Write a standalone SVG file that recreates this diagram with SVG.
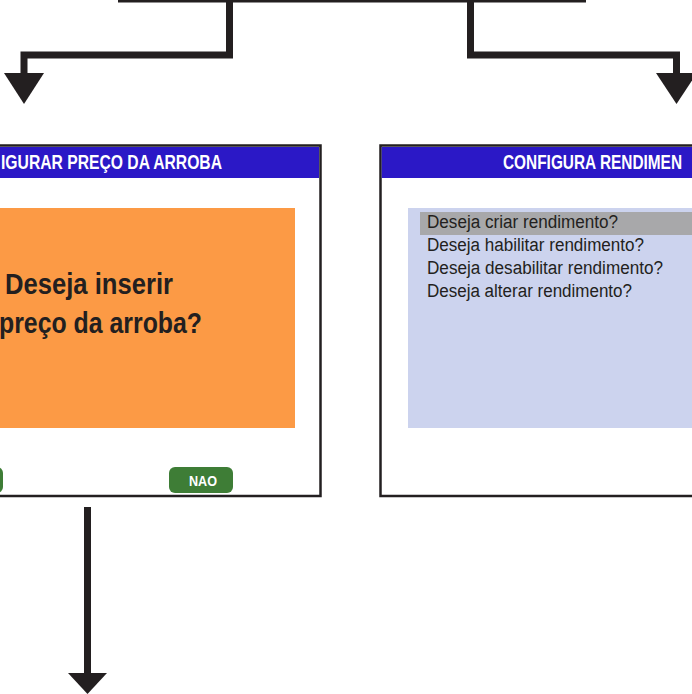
<svg xmlns="http://www.w3.org/2000/svg" width="692" height="694" viewBox="0 0 692 694">
<style>
.frame{fill:#ffffff;stroke:#231f20;stroke-width:2.5}
.bar{fill:#2b18c6}
.title{font-family:"Liberation Sans",Arial,sans-serif;font-weight:bold;font-size:20px;fill:#ffffff}
.big{font-family:"Liberation Sans",Arial,sans-serif;font-weight:bold;font-size:29px;fill:#231f20}
.item{font-family:"Liberation Sans",Arial,sans-serif;font-size:18px;fill:#231f20}
.btn{fill:#3e7d36}
.btntxt{font-family:"Liberation Sans",Arial,sans-serif;font-weight:bold;font-size:15px;fill:#ffffff}
.wire{fill:none;stroke:#231f20;stroke-width:7;stroke-linejoin:miter;stroke-linecap:butt}
.head{fill:#231f20}
</style>
<g id="connectors">
<line x1="118" y1="0" x2="586" y2="0" stroke="#231f20" stroke-width="5"/>
<path class="wire" d="M229.5,0 V55 H24 V76"/>
<polygon class="head" points="4,73 44,73 24,104"/>
<path class="wire" d="M470.5,0 V55 H676.5 V76"/>
<polygon class="head" points="656,73 697,73 676.5,104"/>
<line x1="87.5" y1="507" x2="87.5" y2="676" stroke="#231f20" stroke-width="7"/>
<polygon class="head" points="68,673 107,673 87.5,694"/>
</g>
<g id="node-preco-arroba">
<rect class="frame" x="-150" y="145.5" width="470.5" height="350.5"/>
<rect class="bar" x="-150" y="147" width="469" height="31"/>
<text class="title" x="1" y="169" textLength="221" lengthAdjust="spacingAndGlyphs">IGURAR PREÇO DA ARROBA</text>
<rect x="-120" y="208" width="415" height="220" fill="#fc9a45"/>
<text class="big" x="5" y="294" textLength="168" lengthAdjust="spacingAndGlyphs">Deseja inserir</text>
<text class="big" x="-1" y="333" textLength="203" lengthAdjust="spacingAndGlyphs">preço da arroba?</text>
<rect class="btn" x="-61" y="467" width="64" height="26" rx="6"/>
<rect class="btn" x="169" y="467" width="64" height="26" rx="6"/>
<text class="btntxt" x="189" y="486" textLength="28" lengthAdjust="spacingAndGlyphs">NAO</text>
</g>
<g id="node-rendimento">
<rect class="frame" x="380.5" y="145.5" width="470" height="350.5"/>
<rect class="bar" x="381.75" y="147" width="470" height="31"/>
<text class="title" x="503" y="169" textLength="179" lengthAdjust="spacingAndGlyphs">CONFIGURA RENDIMEN</text>
<rect x="408" y="208" width="420" height="220" fill="#ccd3ee"/>
<rect x="420" y="212" width="300" height="23" fill="#a8a8aa"/>
<text class="item" x="427" y="228" textLength="191" lengthAdjust="spacingAndGlyphs">Deseja criar rendimento?</text>
<text class="item" x="427" y="251" textLength="217" lengthAdjust="spacingAndGlyphs">Deseja habilitar rendimento?</text>
<text class="item" x="427" y="274" textLength="236" lengthAdjust="spacingAndGlyphs">Deseja desabilitar rendimento?</text>
<text class="item" x="427" y="297" textLength="205" lengthAdjust="spacingAndGlyphs">Deseja alterar rendimento?</text>
</g>
</svg>
